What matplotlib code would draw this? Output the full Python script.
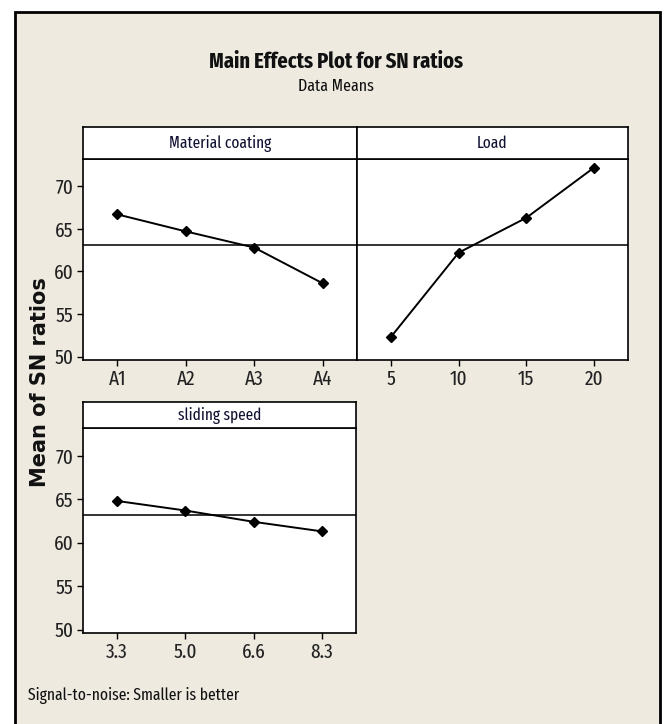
import matplotlib
matplotlib.use("Agg")
import matplotlib.pyplot as plt
from matplotlib.patches import Rectangle

# valori (medie dei rapporti S/N)
coating_levels = ["A1", "A2", "A3", "A4"]
coating_sn = [66.7, 64.7, 62.8, 58.6]

load_levels = ["5", "10", "15", "20"]
load_sn = [52.3, 62.2, 66.3, 72.2]

speed_levels = ["3.3", "5.0", "6.6", "8.3"]
speed_sn = [64.8, 63.7, 62.4, 61.3]

grand_mean = 63.15
y_ticks = [50, 55, 60, 65, 70]

narrow = ["Fira Sans Extra Condensed", "DejaVu Sans"]
beige = "#EEEAE0"

W, H = 666, 724
fig = plt.figure(figsize=(W / 100, H / 100), dpi=100)
fig.patch.set_facecolor("white")


def fx(px):
    return px / W


def fy(py):
    return 1 - py / H


# pannello beige con bordo
fig.patches.append(Rectangle((fx(15), fy(730)), fx(660) - fx(15), fy(12) - fy(730),
                             transform=fig.transFigure, facecolor=beige,
                             edgecolor="black", linewidth=2, zorder=-1))


def pannello(left, right, strip_top, strip_bot, bottom, livelli, valori, titolo, yticks_on):
    ax = fig.add_axes([fx(left), fy(bottom), fx(right) - fx(left), fy(strip_bot) - fy(bottom)])
    ax.set_facecolor("white")
    x = list(range(len(livelli)))
    ax.axhline(grand_mean, color="#333333", lw=1.4, zorder=1)
    ax.plot(x, valori, color="black", lw=1.4, marker="D", ms=5.5, zorder=2)
    ax.set_xlim(-0.5, 3.5)
    ax.set_ylim(49.6, 73.2)
    ax.set_xticks(x)
    ax.set_xticklabels(livelli, family=narrow, fontsize=15, color="#222222")
    if yticks_on:
        ax.set_yticks(y_ticks)
        ax.set_yticklabels([str(v) for v in y_ticks], family=narrow, fontsize=15, color="#222222")
    else:
        ax.set_yticks([])
    ax.tick_params(direction="out", length=4, width=1, pad=3)
    for s in ax.spines.values():
        s.set_linewidth(1.2)
    # striscia del titolo
    st = fig.add_axes([fx(left), fy(strip_bot), fx(right) - fx(left), fy(strip_top) - fy(strip_bot)])
    st.set_facecolor("white")
    st.set_xticks([])
    st.set_yticks([])
    for s in st.spines.values():
        s.set_linewidth(1.2)
    st.text(0.5, 0.5, titolo, ha="center", va="center", family=narrow, fontsize=12, color="#111133")
    return ax


pannello(83, 357, 127, 159, 360, coating_levels, coating_sn, "Material coating", True)
pannello(357, 628, 127, 159, 360, load_levels, load_sn, "Load", False)
pannello(83, 356, 402, 428, 633, speed_levels, speed_sn, "sliding speed", True)

fig.text(fx(336), fy(62), "Main Effects Plot for SN ratios", ha="center", va="center",
         family=narrow, fontsize=16, fontweight="bold", color="#111111")
fig.text(fx(336), fy(86), "Data Means", ha="center", va="center",
         family=narrow, fontsize=12.5, color="#111111")
fig.text(fx(40), fy(382), "Mean of SN ratios", ha="center", va="center", rotation=90,
         family="DejaVu Sans", fontsize=15, fontweight="bold", color="#111111")
fig.text(fx(28), fy(695), "Signal-to-noise: Smaller is better", ha="left", va="center",
         family=narrow, fontsize=12.2, color="#111111")

fig.savefig("out.png", dpi=100, facecolor=fig.get_facecolor())
